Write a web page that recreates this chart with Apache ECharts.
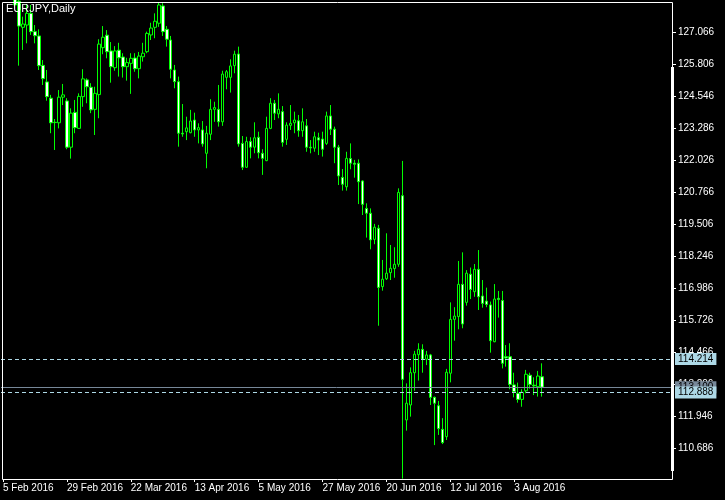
<!DOCTYPE html>
<html><head><meta charset="utf-8">
<script src="https://cdn.jsdelivr.net/npm/echarts@6/dist/echarts.min.js"></script>
<style>html,body{margin:0;padding:0;background:#000}#c{width:725px;height:500px}</style>
</head><body><div id="c"></div>
<script>
const dates = [
'5 Feb 2016','8 Feb 2016','9 Feb 2016','10 Feb 2016','11 Feb 2016','12 Feb 2016','15 Feb 2016','16 Feb 2016','17 Feb 2016','18 Feb 2016','19 Feb 2016','22 Feb 2016','23 Feb 2016','24 Feb 2016','25 Feb 2016','26 Feb 2016',
'29 Feb 2016','1 Mar 2016','2 Mar 2016','3 Mar 2016','4 Mar 2016','7 Mar 2016','8 Mar 2016','9 Mar 2016','10 Mar 2016','11 Mar 2016','14 Mar 2016','15 Mar 2016','16 Mar 2016','17 Mar 2016','18 Mar 2016','21 Mar 2016',
'22 Mar 2016','23 Mar 2016','24 Mar 2016','25 Mar 2016','28 Mar 2016','29 Mar 2016','30 Mar 2016','31 Mar 2016','1 Apr 2016','4 Apr 2016','5 Apr 2016','6 Apr 2016','7 Apr 2016','8 Apr 2016','11 Apr 2016','12 Apr 2016',
'13 Apr 2016','14 Apr 2016','15 Apr 2016','18 Apr 2016','19 Apr 2016','20 Apr 2016','21 Apr 2016','22 Apr 2016','25 Apr 2016','26 Apr 2016','27 Apr 2016','28 Apr 2016','29 Apr 2016','2 May 2016','3 May 2016','4 May 2016',
'5 May 2016','6 May 2016','9 May 2016','10 May 2016','11 May 2016','12 May 2016','13 May 2016','16 May 2016','17 May 2016','18 May 2016','19 May 2016','20 May 2016','23 May 2016','24 May 2016','25 May 2016','26 May 2016',
'27 May 2016','30 May 2016','31 May 2016','1 Jun 2016','2 Jun 2016','3 Jun 2016','6 Jun 2016','7 Jun 2016','8 Jun 2016','9 Jun 2016','10 Jun 2016','13 Jun 2016','14 Jun 2016','15 Jun 2016','16 Jun 2016','17 Jun 2016',
'20 Jun 2016','21 Jun 2016','22 Jun 2016','23 Jun 2016','24 Jun 2016','27 Jun 2016','28 Jun 2016','29 Jun 2016','30 Jun 2016','1 Jul 2016','4 Jul 2016','5 Jul 2016','6 Jul 2016','7 Jul 2016','8 Jul 2016','11 Jul 2016',
'12 Jul 2016','13 Jul 2016','14 Jul 2016','15 Jul 2016','18 Jul 2016','19 Jul 2016','20 Jul 2016','21 Jul 2016','22 Jul 2016','25 Jul 2016','26 Jul 2016','27 Jul 2016','28 Jul 2016','29 Jul 2016','1 Aug 2016','2 Aug 2016',
'3 Aug 2016','4 Aug 2016','5 Aug 2016','8 Aug 2016','9 Aug 2016','10 Aug 2016','11 Aug 2016','12 Aug 2016'
];
const opens = [130.90,130.40,129.60,128.80,128.30,127.27,127.36,127.82,127.10,126.93,125.77,125.12,124.48,123.53,123.51,124.52,
124.37,122.55,123.92,123.29,124.54,125.20,124.91,124.04,124.62,126.47,126.96,126.34,125.68,126.37,126.10,125.72,
125.85,126.06,125.64,126.11,126.31,126.97,127.27,127.43,128.11,127.19,126.77,125.59,125.13,123.10,123.16,123.12,
123.62,123.23,123.23,122.31,123.06,124.04,124.04,123.55,125.30,125.30,125.76,126.22,122.70,121.76,122.77,122.55,
122.94,122.31,122.02,123.29,124.28,123.86,123.95,122.86,123.41,123.51,123.59,123.20,123.39,122.55,122.51,122.92,
122.87,122.70,123.78,123.26,122.55,121.36,120.99,122.10,121.92,121.92,121.22,120.14,119.95,118.92,119.36,117.06,
117.37,117.61,117.77,117.94,120.64,111.81,112.40,113.67,114.38,114.59,114.20,114.37,112.70,112.37,111.44,111.15,
113.65,115.77,115.88,117.15,116.44,117.55,116.86,117.74,116.69,116.49,116.34,114.89,116.60,116.51,114.30,114.30,
113.19,112.86,112.62,112.96,113.57,113.18,113.12,113.51];
const highs = [131.30,130.80,129.80,129.20,128.50,127.69,128.19,128.15,127.36,127.19,125.98,125.59,124.61,123.66,124.80,125.04,
124.48,124.08,124.41,124.67,125.62,125.26,125.07,124.93,126.80,127.32,127.16,126.69,126.53,126.66,126.25,126.07,
126.25,126.25,126.30,126.66,127.10,127.45,127.82,128.24,128.22,127.32,126.93,125.79,125.33,124.25,123.75,124.02,
123.91,123.49,123.58,123.39,124.44,124.34,125.00,125.56,125.59,126.01,126.35,126.51,122.99,122.96,122.94,123.53,
123.16,122.47,123.75,124.48,124.41,124.67,124.17,123.53,124.21,123.95,123.82,124.08,123.66,122.83,123.16,123.12,
123.16,123.95,124.21,123.36,122.64,121.69,122.37,122.70,122.05,122.07,121.25,120.34,120.14,119.53,119.49,118.11,
119.16,118.70,118.61,120.93,122.01,113.25,113.88,114.53,114.83,114.79,114.53,114.41,112.73,112.56,111.88,113.82,
116.44,116.25,118.07,118.41,117.71,117.81,117.95,118.50,117.32,117.02,116.47,117.16,116.89,116.89,114.76,114.83,
113.67,113.28,113.02,113.78,113.67,113.49,113.74,114.04];
const lows = [130.10,129.30,128.50,128.05,125.76,126.38,126.64,126.97,126.64,125.59,125.00,124.38,123.10,122.44,123.29,124.21,
122.47,122.10,123.10,123.27,124.14,124.28,123.89,123.03,123.69,126.21,126.05,125.09,125.56,125.33,125.29,125.17,
124.65,125.52,125.26,125.92,126.25,126.77,126.84,127.29,126.93,126.51,125.26,124.87,122.57,122.96,122.83,123.10,
122.96,122.70,122.57,121.72,122.83,123.55,123.36,123.39,124.83,124.70,125.46,122.57,121.65,121.74,122.11,122.31,
122.11,121.46,122.00,123.26,123.62,123.69,122.57,122.64,123.23,123.10,122.96,122.96,122.37,122.31,122.37,122.24,
122.18,122.64,123.03,121.92,121.06,120.84,120.84,121.68,121.35,120.31,119.88,118.99,118.53,118.73,115.52,116.90,
117.32,117.32,117.41,117.84,109.50,111.39,111.94,112.96,113.36,113.67,113.97,112.40,110.82,111.22,110.86,111.02,
113.29,114.93,115.38,115.42,116.31,116.57,116.66,116.14,116.23,116.25,114.46,114.87,115.84,113.84,113.91,113.02,
112.70,112.49,112.33,112.86,113.04,112.79,112.73,112.73];
const closes = [130.40,129.60,128.80,128.15,127.32,127.40,127.82,127.10,126.94,125.76,125.25,124.54,123.51,123.52,124.52,124.61,
122.55,123.89,123.32,124.55,125.24,124.93,124.02,124.67,126.61,126.88,126.31,125.72,126.34,126.07,125.72,125.88,
126.05,125.64,126.14,126.25,127.03,127.24,127.51,128.15,127.10,126.80,125.62,125.13,123.10,123.07,123.31,123.58,
123.23,123.32,122.68,123.10,124.04,124.11,123.55,125.43,125.52,125.75,126.21,122.68,121.76,122.77,122.55,122.92,
122.33,122.11,123.29,124.28,123.89,124.04,122.74,123.42,123.49,123.62,123.20,123.55,122.55,122.52,122.96,122.83,
122.47,123.78,123.26,122.55,121.42,121.09,122.11,121.92,121.88,121.19,120.30,119.95,118.90,119.40,117.03,117.35,
117.59,117.78,117.94,120.77,113.41,112.47,113.67,114.40,114.59,114.20,114.37,112.70,112.47,111.47,110.92,113.69,
115.77,115.90,117.15,115.59,117.59,116.95,117.74,116.66,116.40,116.36,114.93,116.57,116.55,114.04,114.25,113.21,
112.92,112.62,112.90,113.61,113.21,113.15,113.54,113.10];
const priceTicks = [110.686,111.946,113.206,114.466,115.726,116.986,118.246,119.506,120.766,122.026,123.286,124.546,125.806,127.066];
const levelLines = [114.214, 112.888];
const bidPrice = closes[closes.length - 1];
const chartTitle = 'EURJPY,Daily';

const yMin = 109.485, yMax = 128.267;
const slotCount = 168;
const categories = dates.slice();
while (categories.length < slotCount) categories.push('');
const candleData = opens.map((o, i) => [o, closes[i], lows[i], highs[i]]);
const FONT = 'Liberation Sans';

const chart = echarts.init(document.getElementById('c'), null, {renderer: 'canvas'});
const boxLabel = (text, bg) => ({show: true, position: 'end', distance: 3, formatter: text, color: '#000000',
  backgroundColor: bg, padding: [1, 3, 1, 3], fontSize: 10, fontFamily: FONT});
chart.setOption({
  backgroundColor: '#000000',
  animation: false,
  grid: {left: 0, right: 53, top: 2, bottom: 21, show: false},
  xAxis: {
    type: 'category',
    data: categories,
    boundaryGap: true,
    axisLine: {show: false},
    axisTick: {show: true, alignWithLabel: true, length: 3, lineStyle: {color: '#ffffff'},
      interval: (idx) => idx % 16 === 0 && idx < dates.length},
    axisLabel: {color: '#ffffff', fontSize: 10, fontFamily: FONT, align: 'left', margin: 4,
      interval: (idx) => idx % 16 === 0 && idx < dates.length},
    splitLine: {show: false}
  },
  yAxis: {
    type: 'value',
    position: 'right',
    min: yMin, max: yMax,
    scale: true,
    axisLine: {show: false},
    axisTick: {show: true, length: 4, lineStyle: {color: '#ffffff'}, customValues: priceTicks},
    axisLabel: {color: '#ffffff', fontSize: 10, fontFamily: FONT, margin: 6, customValues: priceTicks,
      formatter: (v) => v.toFixed(3)},
    splitLine: {show: false}
  },
  series: [{
    type: 'candlestick',
    data: candleData,
    barWidth: 3,
    clip: true,
    itemStyle: {color: '#000000', color0: '#ffffff', borderColor: '#00ff00', borderColor0: '#00ff00', borderColorDoji: '#00ff00', borderWidth: 1},
    markLine: {
      silent: true,
      symbol: ['none', 'none'],
      animation: false,
      data: [
        {yAxis: bidPrice, lineStyle: {color: '#778899', type: 'solid', width: 1}, label: boxLabel(bidPrice.toFixed(3), '#778899')},
        {yAxis: levelLines[0], lineStyle: {color: '#add8e6', type: [4, 3], width: 1}, label: boxLabel(levelLines[0].toFixed(3), '#add8e6')},
        {yAxis: levelLines[1], lineStyle: {color: '#add8e6', type: [4, 3], width: 1}, label: boxLabel(levelLines[1].toFixed(3), '#add8e6')}
      ]
    }
  }],
  graphic: [
    {type: 'rect', z: 50, shape: {x: 2.5, y: 2.5, width: 670, height: 477}, style: {fill: 'none', stroke: '#ffffff', lineWidth: 1}, silent: true},
    {type: 'rect', z: 50, shape: {x: 671, y: 67, width: 3, height: 404}, style: {fill: '#ffffff'}, silent: true},
    {type: 'text', z: 60, left: 6, top: 3, style: {text: chartTitle, fill: '#ffffff', font: '11px "Liberation Sans"'}, silent: true}
  ]
});
</script></body></html>
